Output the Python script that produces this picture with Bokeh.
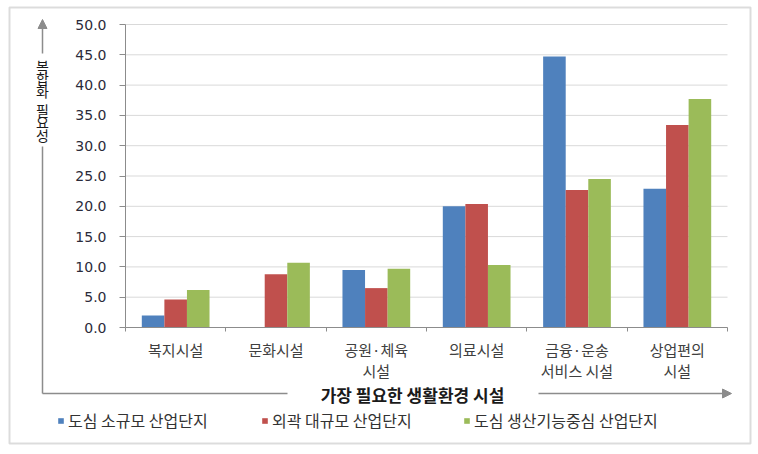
import numpy as np
from bokeh.plotting import figure
from bokeh.models import (Range1d, FixedTicker, LinearAxis, NumeralTickFormatter, Label,
                          Arrow, NormalHead, BoxAnnotation, Legend, LegendItem)
from bokeh.embed import file_html
from bokeh.resources import INLINE

categories = ["복지시설", "문화시설", "공원·체육\n시설", "의료시설", "금융·운송\n서비스 시설", "상업편의\n시설"]
series_names = ["도심 소규모 산업단지", "외곽 대규모 산업단지", "도심 생산기능중심 산업단지"]
small_urban = [2.0, 0.0, 9.5, 20.0, 44.7, 22.9]
large_outer = [4.6, 8.8, 6.5, 20.4, 22.7, 33.4]
urban_production = [6.2, 10.7, 9.7, 10.3, 24.5, 37.7]
y_ticks = [0, 5, 10, 15, 20, 25, 30, 35, 40, 45, 50]
colors = ["#4F81BD", "#C0504D", "#9BBB59"]
y_title = ["복\n합\n화", "필\n요\n성"]
x_title = "가장 필요한 생활환경 시설"

KFONT = "Noto Sans CJK KR"
GRAY = "#8c8c8c"

W, H = 758, 454
# plotting-area placement on the canvas (pixels)
PL, PR, PT, PB = 125, 727, 24, 327
YMAX = 50
NC = len(categories)
kx = (PR - PL) / NC
ky = (PB - PT) / YMAX
x0 = -PL / kx
y0 = -(H - PB) / ky

p = figure(width=W, height=H, output_backend="svg", toolbar_location=None,
           x_range=Range1d(x0, x0 + W / kx), y_range=Range1d(y0, y0 + H / ky),
           min_border=0, x_axis_type=None, y_axis_type=None)
p.outline_line_color = None
p.background_fill_color = "white"
p.border_fill_color = "white"
p.xgrid.visible = False
p.ygrid.visible = False

# horizontal gridlines
p.segment(x0=[0] * len(y_ticks), x1=[NC] * len(y_ticks), y0=y_ticks, y1=y_ticks,
          line_color="#d9d9d9", line_width=1)

centers = np.arange(NC) + 0.5
bw = 0.225
renderers = []
for off, vals, c in zip([-bw, 0, bw], [small_urban, large_outer, urban_production], colors):
    r = p.vbar(x=centers + off, top=vals, width=bw, bottom=0, fill_color=c, line_color=None)
    renderers.append(r)

# y axis
yax = LinearAxis(ticker=FixedTicker(ticks=y_ticks, minor_ticks=[]),
                 formatter=NumeralTickFormatter(format="0.0"),
                 fixed_location=0, bounds=(0, YMAX))
yax.axis_line_color = GRAY
yax.major_tick_line_color = GRAY
yax.major_tick_out = 6
yax.major_tick_in = 0
yax.major_label_standoff = 13
yax.major_label_text_font = "DejaVu Sans"
yax.major_label_text_font_size = "14px"
yax.major_label_text_color = "#2b2b3a"
p.add_layout(yax, "left")

# x axis
xax = LinearAxis(ticker=FixedTicker(ticks=list(centers), minor_ticks=list(range(NC + 1))),
                 fixed_location=0, bounds=(0, NC))
xax.major_label_overrides = {float(c): lab for c, lab in zip(centers, categories)}
xax.axis_line_color = GRAY
xax.major_tick_line_color = None
xax.minor_tick_line_color = GRAY
xax.minor_tick_out = 4
xax.minor_tick_in = 0
xax.major_label_standoff = 5
xax.major_label_text_font = KFONT
xax.major_label_text_font_size = "15px"
xax.major_label_text_color = "#404040"
xax.major_label_text_line_height = 1.02
p.add_layout(xax, "below")


def sy(cy):
    return H - cy


# outer border
p.add_layout(BoxAnnotation(left=9, right=750, top=sy(7), bottom=sy(443),
                           left_units="screen", right_units="screen", top_units="screen",
                           bottom_units="screen", fill_alpha=0, line_color=GRAY,
                           line_width=2, level="overlay"))


def seg(xa, ya, xb, yb, head=False):
    a = Arrow(x_start=xa, y_start=sy(ya), x_end=xb, y_end=sy(yb),
              start_units="screen", end_units="screen", line_color=GRAY, line_width=1.5,
              end=NormalHead(size=9, fill_color=GRAY, line_color=GRAY) if head else None)
    p.add_layout(a)


seg(42, 393, 42, 146)
seg(42, 53, 42, 19, head=True)
seg(42, 393, 287, 393)
seg(538, 393, 731, 393, head=True)

p.add_layout(Label(x=412, y=sy(394), x_units="screen", y_units="screen", text=x_title,
                   text_font=KFONT, text_font_style="bold", text_font_size="17px",
                   text_color="#1a1a1a", text_align="center", text_baseline="middle"))
for t, cy in zip(y_title, [78, 122]):
    p.add_layout(Label(x=42, y=sy(cy), x_units="screen", y_units="screen", text=t,
                       text_font=KFONT, text_font_size="14px", text_color="#1a1a1a",
                       text_align="center", text_baseline="middle", text_line_height=0.64))

# legends, one per item, positioned like the reference
for name, r, lx in zip(series_names, renderers, [57, 261, 463]):
    lg = Legend(items=[LegendItem(label=name, renderers=[r])],
                location=(lx, sy(432)), orientation="horizontal",
                glyph_width=7, glyph_height=7, label_standoff=4, padding=0, margin=0,
                spacing=0, border_line_color=None, background_fill_alpha=0,
                label_text_font=KFONT, label_text_font_size="16px",
                label_text_color="#333333", label_height=18)
    p.add_layout(lg, "center")

open("out.html", "w").write(file_html(p, INLINE))
